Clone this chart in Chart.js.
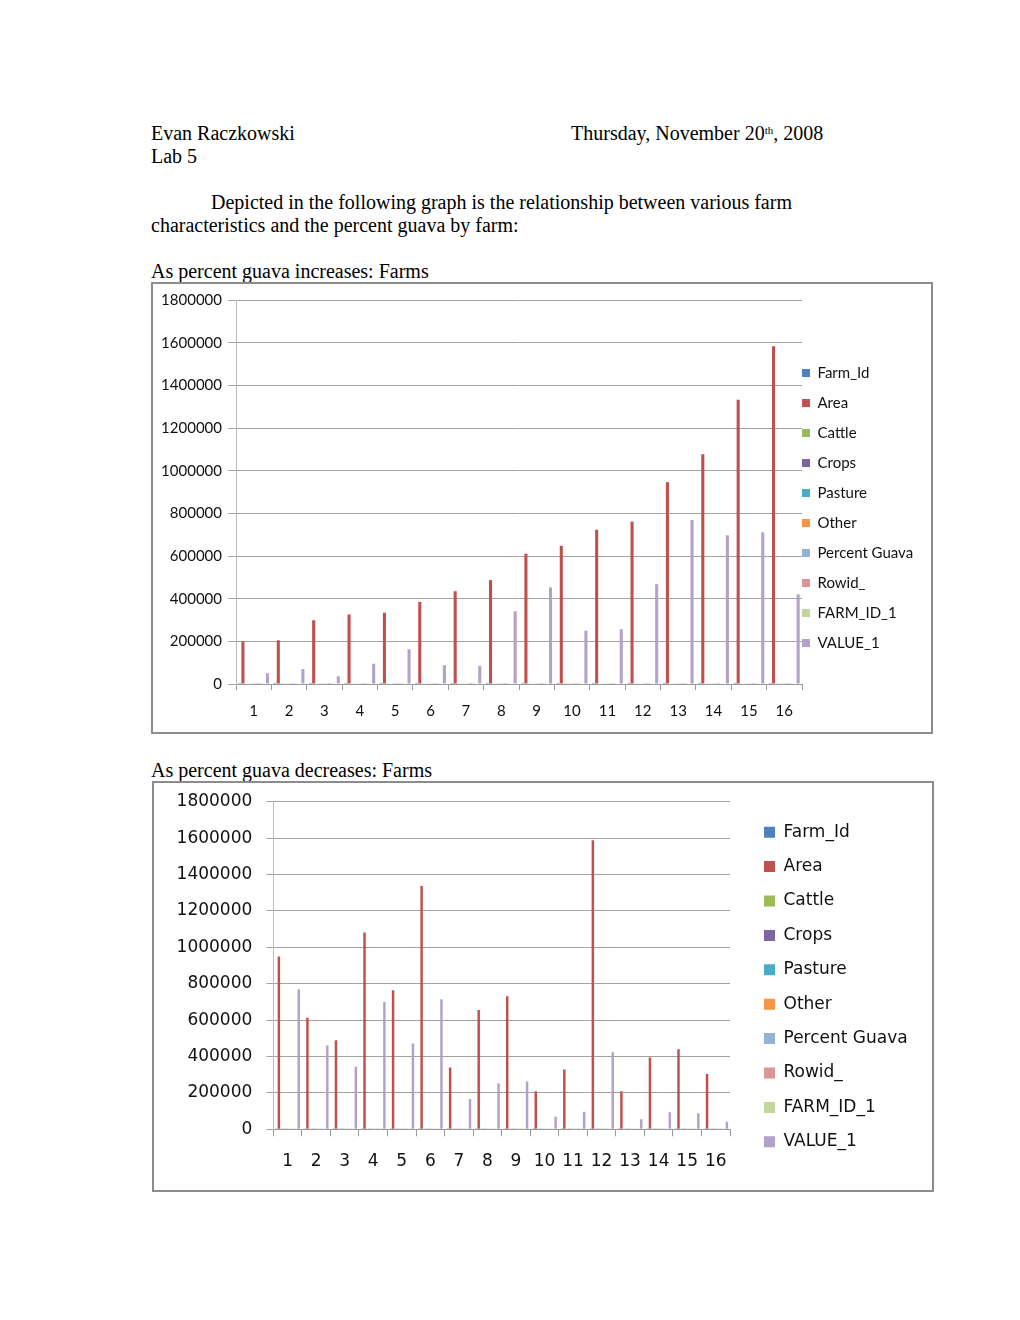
<!DOCTYPE html>
<html>
<head>
<meta charset="utf-8">
<script src="https://cdn.jsdelivr.net/npm/chart.js@4.4.1/dist/chart.umd.min.js"></script>
<style>
  body { margin: 0; background: #fff; width: 1020px; height: 1320px; position: relative; }
  .txt { position: absolute; font-family: "Liberation Serif", "Times New Roman", serif; font-size: 20px; line-height: 23px; color: #000; white-space: nowrap; }
  .txt sup { font-size: 11px; position: relative; top: -3px; vertical-align: top; }
  .box { position: absolute; border: 2px solid #8c8c8c; background: #fff; }
  .box canvas { display: block; }
</style>
</head>
<body>
<div class="txt" style="left:151px;top:122px">Evan Raczkowski</div>
<div class="txt" style="left:571px;top:122px">Thursday, November 20<sup>th</sup>, 2008</div>
<div class="txt" style="left:151px;top:145px">Lab 5</div>
<div class="txt" style="left:211px;top:191px">Depicted in the following graph is the relationship between various farm</div>
<div class="txt" style="left:151px;top:214px">characteristics and the percent guava by farm:</div>
<div class="txt" style="left:151px;top:260px">As percent guava increases: Farms</div>
<div class="box" style="left:151px;top:282px;width:778px;height:448px">
  <canvas id="incChart" width="778" height="448"></canvas>
</div>
<div class="txt" style="left:151px;top:759px">As percent guava decreases: Farms</div>
<div class="box" style="left:152px;top:781px;width:778px;height:407px">
  <canvas id="decChart" width="778" height="407"></canvas>
</div>

<script>
// farms along the x axis
const farms = ['1', '2', '3', '4', '5', '6', '7', '8', '9', '10', '11', '12', '13', '14', '15', '16'];

const seriesNames = ['Farm_Id', 'Area', 'Cattle', 'Crops', 'Pasture', 'Other', 'Percent Guava', 'Rowid_', 'FARM_ID_1', 'VALUE_1'];
const seriesColors = ['#4F81BD', '#C0504D', '#9BBB59', '#8064A2', '#4BACC6', '#F79646', '#95B3D7', '#D99694', '#C3D69B', '#B3A2C7'];

// sorted by increasing percent guava
const farmIdInc = [12, 3, 15, 7, 1, 9, 14, 5, 11, 2, 16, 8, 4, 13, 6, 10];
const areaInc = [200000, 205000, 299000, 326000, 334000, 385000, 435000, 487000, 611000, 648000, 723000, 761000, 946000, 1077000, 1333000, 1583000];
const cattleInc = [1500, 900, 2100, 1200, 800, 1700, 1100, 1400, 2000, 1300, 1800, 900, 2200, 1600, 1900, 1200];
const cropsInc = [2500, 1800, 3000, 2600, 2200, 2400, 2900, 2100, 2700, 3100, 2300, 2800, 2600, 3000, 2500, 2700];
const pastureInc = [3000, 2600, 3200, 2800, 3100, 2900, 2700, 3300, 3000, 2800, 3100, 2600, 3200, 2900, 3000, 2800];
const otherInc = [1200, 1000, 1400, 1100, 900, 1300, 1200, 1000, 1500, 1100, 1300, 1200, 1400, 1000, 1200, 1300];
const guavaInc = [2, 4, 5, 7, 9, 11, 14, 17, 20, 24, 29, 33, 38, 45, 52, 61];
const rowidInc = [1200, 1500, 1100, 1400, 1300, 1600, 1000, 1700, 1200, 1500, 1300, 1400, 1100, 1600, 1200, 1500];
const farmId1Inc = [2000, 1800, 2200, 1900, 2100, 1700, 2000, 2300, 1800, 2100, 1900, 2200, 2000, 1800, 2100, 1900];
const valueInc = [50000, 70000, 36000, 95000, 163000, 88000, 85000, 341000, 453000, 250000, 257000, 468000, 769000, 697000, 711000, 420000];

// sorted by decreasing percent guava
const farmIdDec = [4, 6, 10, 13, 8, 16, 2, 11, 5, 14, 9, 7, 1, 15, 3, 12];
const areaDec = [949000, 613000, 489000, 1081000, 764000, 1337000, 339000, 656000, 731000, 209000, 328000, 1588000, 209000, 394000, 440000, 304000];
const cattleDec = [300, 200, 400, 300, 200, 500, 100, 300, 200, 400, 300, 200, 100, 300, 200, 400];
const cropsDec = [500, 400, 300, 600, 400, 500, 300, 400, 500, 300, 400, 600, 300, 400, 500, 300];
const pastureDec = [600, 500, 400, 700, 500, 800, 300, 500, 600, 300, 400, 700, 300, 400, 500, 400];
const otherDec = [200, 100, 200, 300, 200, 300, 100, 200, 200, 100, 200, 300, 100, 200, 200, 100];
const guavaDec = [61, 52, 45, 38, 33, 29, 24, 20, 17, 14, 11, 9, 7, 5, 4, 2];
const rowidDec = [300, 400, 200, 500, 300, 400, 200, 300, 400, 200, 300, 500, 200, 300, 400, 200];
const farmId1Dec = [400, 300, 500, 400, 300, 600, 200, 400, 300, 500, 400, 300, 200, 400, 300, 500];
const valueDec = [769000, 460000, 344000, 700000, 472000, 714000, 167000, 253000, 262000, 71000, 97000, 423000, 55000, 93000, 88000, 42000];

const yTicks = { min: 0, max: 1800000, step: 200000 };

// move the legend next to the plot like the Excel original
const legendPlacer = {
  id: 'legendPlacer',
  afterLayout(chart, args, opts) {
    const lg = chart.legend;
    const pad = chart.options.plugins.legend.labels.padding;
    const h = lg.height;
    lg.left = opts.x - pad;
    lg.width = opts.w;
    lg.right = lg.left + opts.w;
    lg.top = opts.cy - h / 2;
    lg.bottom = lg.top + h;
  }
};

function buildChart(id, series, look) {
  const ctx = document.getElementById(id);
  new Chart(ctx, {
    type: 'bar',
    data: {
      labels: farms,
      datasets: series.map((d, i) => ({
        label: seriesNames[i],
        data: d,
        backgroundColor: seriesColors[i],
        borderWidth: 0,
        categoryPercentage: 10 / 11.5,
        barPercentage: 1
      }))
    },
    options: {
      responsive: false,
      animation: false,
      layout: { padding: { left: 0, top: look.top, right: look.right, bottom: 0 } },
      plugins: {
        tooltip: { enabled: false },
        legend: {
          position: 'right',
          maxWidth: 40,
          labels: {
            font: look.font,
            color: '#111',
            boxWidth: look.box,
            boxHeight: look.box,
            padding: look.gap
          }
        },
        legendPlacer: { x: look.legendX, cy: look.legendY, w: 200 }
      },
      scales: {
        x: {
          grid: { offset: true, drawOnChartArea: false, color: '#9a9a9a', tickLength: look.xTick },
          border: { color: '#9a9a9a' },
          ticks: { font: look.font, color: '#111', padding: look.xPad, autoSkip: false, maxRotation: 0 },
          afterFit: s => { s.height = look.xHeight }
        },
        y: {
          min: yTicks.min,
          max: yTicks.max,
          ticks: {
            stepSize: yTicks.step,
            font: look.font,
            color: '#111',
            padding: look.yPad,
            callback: v => String(v)
          },
          grid: { color: '#a3a3a3', tickLength: look.yTick },
          border: { color: '#bdbdbd' },
          afterFit: s => {
            s.width = look.yWidth;
            s.paddingTop = 0;
            s.paddingBottom = 0;
          }
        }
      }
    },
    plugins: [legendPlacer]
  });
}

buildChart('incChart',
  [farmIdInc, areaInc, cattleInc, cropsInc, pastureInc, otherInc, guavaInc, rowidInc, farmId1Inc, valueInc],
  {
    top: 16, right: 89, yWidth: 83, xHeight: 48,
    legendX: 649, legendY: 224,
    font: { family: 'Lato', size: 15 },
    box: 8, gap: 15, yTick: 8, yPad: 6, xTick: 6, xPad: 12
  });

buildChart('decChart',
  [farmIdDec, areaDec, cattleDec, cropsDec, pastureDec, otherDec, guavaDec, rowidDec, farmId1Dec, valueDec],
  {
    top: 18.7, right: 162, yWidth: 119.3, xHeight: 60.7,
    legendX: 610, legendY: 204,
    font: { family: 'DejaVu Sans', size: 17 },
    box: 11, gap: 17.4, yTick: 7, yPad: 14, xTick: 7, xPad: 15
  });
</script>
</body>
</html>
